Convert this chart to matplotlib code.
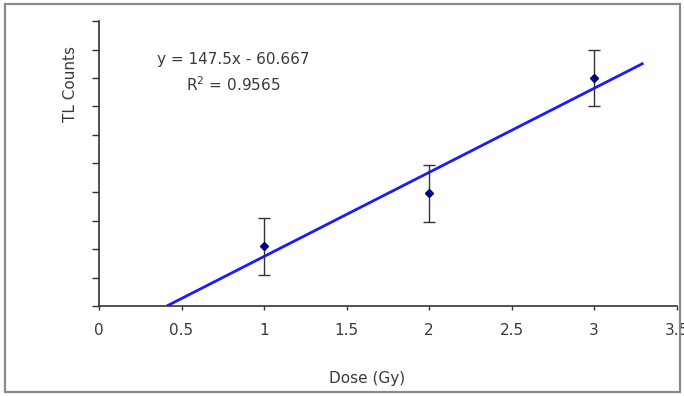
import numpy as np
import matplotlib
matplotlib.use("Agg")
import matplotlib.pyplot as plt
from matplotlib.patches import Rectangle

plt.rcParams['font.family'] = ['DejaVu Sans']

dose = [1, 2, 3]
tl_counts = [105, 198, 400]
tl_err = [50, 50, 50]
x_ticks = [0, 0.5, 1, 1.5, 2, 2.5, 3, 3.5]
x_tick_labels = ["0", "0.5", "1", "1.5", "2", "2.5", "3", "3.5"]
fit_x_end = 3.3

fs = 11
txt_col = "#3a3a3a"

fig = plt.figure(figsize=(6.84, 3.96), dpi=100)
ax = fig.add_axes([99 / 684, 90 / 396, 577.5 / 684, 285 / 396])

# outer chart border
fig.patches.append(Rectangle((5 / 684, 4 / 396), 675 / 684, 388 / 396,
                             transform=fig.transFigure, fill=False,
                             edgecolor="#8a8a8a", lw=1.6))

# linear trendline
slope, intercept = np.polyfit(dose, tl_counts, 1)
pred = np.polyval([slope, intercept], dose)
r2 = 1 - np.sum((np.array(tl_counts) - pred) ** 2) / np.sum((np.array(tl_counts) - np.mean(tl_counts)) ** 2)
x0 = -intercept / slope
fx = np.array([x0, fit_x_end])
ax.plot(fx, slope * fx + intercept, color="#1a1aff", lw=2, zorder=2, solid_capstyle="butt")

ax.errorbar(dose, tl_counts, yerr=tl_err, fmt="none", ecolor="#333333",
            elinewidth=1, capsize=4, capthick=1, zorder=3)
ax.plot(dose, tl_counts, linestyle="none", marker="D", markersize=4.5,
        color="#000080", zorder=4)

ax.text(0.233, 0.865, f"y = {slope:.1f}x - {-intercept:.3f}", transform=ax.transAxes,
        ha="center", va="center", fontsize=fs, color=txt_col)
ax.text(0.233, 0.775, f"R$^2$ = {r2:.4f}", transform=ax.transAxes,
        ha="center", va="center", fontsize=fs, color=txt_col)

ax.set_xlim(0, 3.5)
ax.set_ylim(0, 500)
ax.set_xticks(x_ticks)
ax.set_xticklabels(x_tick_labels)
ax.set_yticks(np.arange(0, 501, 50))
ax.set_yticklabels([])

for s in ["top", "right"]:
    ax.spines[s].set_visible(False)
for s in ["left", "bottom"]:
    ax.spines[s].set_color("#333333")
    ax.spines[s].set_linewidth(1.2)

ax.tick_params(axis="x", direction="out", length=3, width=1, color="#333333",
               pad=9, labelsize=fs, labelcolor=txt_col)
ax.tick_params(axis="y", direction="out", length=5, width=1, color="#333333")

ax.set_xlabel("Dose (Gy)", fontsize=fs, color=txt_col, va="center")
ax.xaxis.set_label_coords(0.464, -0.253)
ax.set_ylabel("TL Counts", fontsize=fs, color=txt_col, va="center", ha="center")
ax.yaxis.set_label_coords(-0.05, 0.78)

fig.savefig("out.png", dpi=100)
